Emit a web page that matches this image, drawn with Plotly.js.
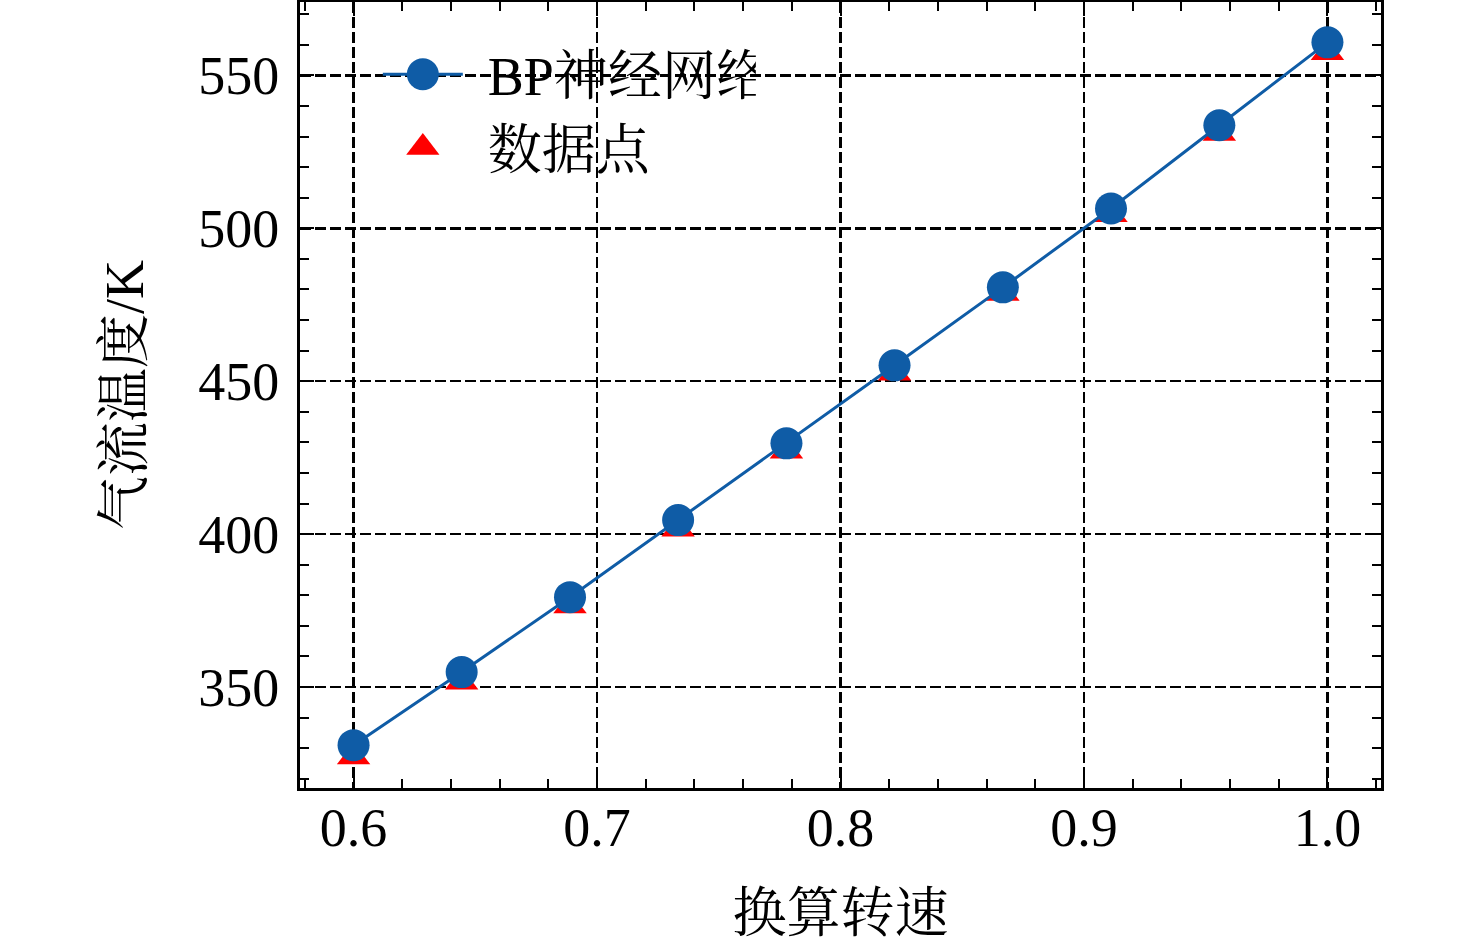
<!DOCTYPE html>
<html>
<head>
<meta charset="utf-8">
<script src="https://cdn.plot.ly/plotly-3.0.1.min.js"></script>
<style>html,body{margin:0;padding:0;background:#fff;}#chart{width:1476px;height:949px;}</style>
</head>
<body>
<div id="chart"></div>
<script>
// Data
const speed = [0.6, 0.6444, 0.6889, 0.7333, 0.7778, 0.8222, 0.8667, 0.9111, 0.9556, 1.0];
const bpTemp = [331.0, 354.9, 379.4, 404.6, 429.7, 455.2, 480.7, 506.5, 533.7, 560.8];
const dataTemp = [329.9, 354.4, 379.3, 404.4, 429.9, 455.4, 481.5, 507.2, 533.8, 560.2];
const xTicks = [0.6, 0.7, 0.8, 0.9, 1.0];
const xTickText = ['0.6', '0.7', '0.8', '0.9', '1.0'];
const yTicks = [350, 400, 450, 500, 550];
const yTickText = ['350', '400', '450', '500', '550'];
const seriesNames = ['BP神经网络', '数据点'];
const xTitle = '换算转速';
const yTitle = '气流温度/K';

const FONT = '"Liberation Serif", "Times New Roman", "Noto Serif CJK SC", "Noto Sans CJK SC", serif';
const blue = '#0f5ca6';
const red = '#ff0000';
const yRange = [317, 574];
const markerShift = 2.8; // offsets Plotly's triangle geometry so it is centred on its value

const traces = [
  {
    x: speed, y: dataTemp, name: seriesNames[1], type: 'scatter', mode: 'markers',
    yaxis: 'y',
    marker: {symbol: 'triangle-up', size: 29, color: red, line: {width: 0}},
    legendrank: 2
  },
  {
    x: speed, y: bpTemp, name: seriesNames[0], type: 'scatter', mode: 'lines+markers',
    yaxis: 'y2',
    line: {color: blue, width: 3},
    marker: {symbol: 'circle', size: 32, color: blue, line: {width: 0}},
    legendrank: 1
  }
];

const axisCommon = {
  showline: true, linecolor: '#000', linewidth: 3, mirror: 'ticks',
  ticks: 'inside', ticklen: 14, tickwidth: 2, tickcolor: '#000',
  showgrid: true, gridcolor: '#000', gridwidth: 2.5, griddash: '11px,4px',
  zeroline: false,
  tickfont: {family: FONT, size: 54, color: '#000'}
};

const layout = {
  width: 1476, height: 949,
  paper_bgcolor: '#fff', plot_bgcolor: '#fff',
  margin: {l: 300, r: 95, t: 2, b: 161},
  showlegend: true,
  legend: {
    x: 0.072, y: 0.961, xanchor: 'left', yanchor: 'top',
    bgcolor: 'rgba(0,0,0,0)', borderwidth: 0,
    itemwidth: 80, tracegroupgap: 0,
    font: {family: FONT, size: 54, color: '#000'},
    traceorder: 'normal'
  },
  xaxis: Object.assign({}, axisCommon, {
    range: [0.578, 1.022],
    tickmode: 'array', tickvals: xTicks, ticktext: xTickText,
    minor: {dtick: 0.02, tick0: 0.6, ticks: 'inside', ticklen: 9, tickwidth: 2, tickcolor: '#000', showgrid: false},
    ticklabelstandoff: -10,
    title: {text: xTitle, font: {family: FONT, size: 54, color: '#000'}, standoff: 38}
  }),
  // hidden axis for the data-point triangles (shifted so the triangle is centred on its value)
  yaxis: {
    range: [yRange[0] + markerShift, yRange[1] + markerShift],
    visible: false, showgrid: false, zeroline: false
  },
  yaxis2: Object.assign({}, axisCommon, {
    overlaying: 'y', side: 'left',
    range: yRange,
    tickmode: 'array', tickvals: yTicks, ticktext: yTickText,
    minor: {dtick: 10, tick0: 350, ticks: 'inside', ticklen: 9, tickwidth: 2, tickcolor: '#000', showgrid: false},
    ticklabelstandoff: 7,
    title: {text: yTitle, font: {family: FONT, size: 54, color: '#000'}, standoff: 38}
  })
};

Plotly.newPlot('chart', traces, layout, {staticPlot: true, displayModeBar: false}).then(function (gd) {
  // enlarge legend symbols to match the plotted marker size, and widen the gap to the text
  gd.querySelectorAll('.legend .traces').forEach(function (tr) {
    const p = tr.querySelector('.legendpoints path.scatterpts');
    const d = tr.__data__ && tr.__data__[0] && tr.__data__[0].trace;
    if (p) {
      const t = p.getAttribute('transform') || '';
      const s = (d && d.marker && d.marker.symbol === 'circle') ? 2 : 1.8;
      p.setAttribute('transform', t + ' scale(' + s + ')');
    }
    const txt = tr.querySelector('text.legendtext');
    if (txt) {
      const x = parseFloat(txt.getAttribute('x') || '0');
      txt.setAttribute('x', x + 20);
    }
  });
});
</script>
</body>
</html>
